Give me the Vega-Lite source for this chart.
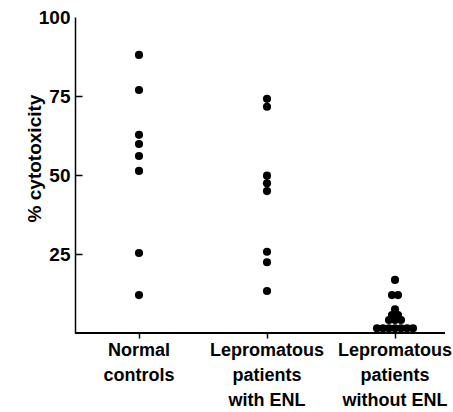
{
  "$schema": "https://vega.github.io/schema/vega-lite/v6.json",
  "width": 370,
  "height": 316,
  "autosize": {"type": "none"},
  "padding": {"left": 75, "top": 17, "right": 8, "bottom": 79},
  "config": {"view": {"stroke": null}, "font": "Liberation Sans"},
  "data": {"values": [
    {"group": "Normal controls", "value": 88.0},
    {"group": "Normal controls", "value": 76.9},
    {"group": "Normal controls", "value": 62.7},
    {"group": "Normal controls", "value": 59.8},
    {"group": "Normal controls", "value": 56.0},
    {"group": "Normal controls", "value": 51.3},
    {"group": "Normal controls", "value": 25.3},
    {"group": "Normal controls", "value": 12.0},
    {"group": "Lepromatous patients with ENL", "value": 74.1},
    {"group": "Lepromatous patients with ENL", "value": 71.6},
    {"group": "Lepromatous patients with ENL", "value": 49.8},
    {"group": "Lepromatous patients with ENL", "value": 47.4},
    {"group": "Lepromatous patients with ENL", "value": 44.9},
    {"group": "Lepromatous patients with ENL", "value": 25.7},
    {"group": "Lepromatous patients with ENL", "value": 22.4},
    {"group": "Lepromatous patients with ENL", "value": 13.3},
    {"group": "Lepromatous patients without ENL", "value": 16.8},
    {"group": "Lepromatous patients without ENL", "value": 12.0},
    {"group": "Lepromatous patients without ENL", "value": 12.0},
    {"group": "Lepromatous patients without ENL", "value": 7.5},
    {"group": "Lepromatous patients without ENL", "value": 5.7},
    {"group": "Lepromatous patients without ENL", "value": 5.7},
    {"group": "Lepromatous patients without ENL", "value": 4.1},
    {"group": "Lepromatous patients without ENL", "value": 4.1},
    {"group": "Lepromatous patients without ENL", "value": 4.1},
    {"group": "Lepromatous patients without ENL", "value": 1.5},
    {"group": "Lepromatous patients without ENL", "value": 1.5},
    {"group": "Lepromatous patients without ENL", "value": 1.5},
    {"group": "Lepromatous patients without ENL", "value": 1.5},
    {"group": "Lepromatous patients without ENL", "value": 1.5},
    {"group": "Lepromatous patients without ENL", "value": 1.5},
    {"group": "Lepromatous patients without ENL", "value": 1.5}
  ]},
  "layer": [
    {
      "data": {"values": [{}]},
      "mark": {"type": "rule", "color": "black", "strokeWidth": 2},
      "encoding": {
        "y": {"datum": 0, "type": "quantitative", "scale": {"domain": [0, 100], "nice": false}}
      }
    },
    {
      "transform": [
        {"window": [{"op": "row_number", "as": "rn"}, {"op": "count", "as": "cnt"}], "groupby": ["group", "value"], "frame": [null, null]},
        {"calculate": "datum.rn - (datum.cnt + 1) / 2", "as": "off"}
      ],
      "mark": {"type": "circle", "size": 66, "color": "black", "opacity": 1},
      "encoding": {
        "x": {
          "field": "group",
          "type": "nominal",
          "sort": null,
          "scale": {
            "domain": ["Normal controls", "Lepromatous patients with ENL", "Lepromatous patients without ENL"],
            "range": [0, 384],
            "paddingInner": 0,
            "paddingOuter": 0
          },
          "axis": {
            "title": null,
            "domain": false,
            "ticks": true,
            "tickSize": 5,
            "tickWidth": 1.5,
            "tickColor": "black",
            "labelAngle": 0,
            "labelExpr": "datum.value == 'Normal controls' ? ['Normal', 'controls'] : datum.value == 'Lepromatous patients with ENL' ? ['Lepromatous', 'patients', 'with ENL'] : ['Lepromatous', 'patients', 'without ENL']",
            "labelFont": "Liberation Sans",
            "labelFontSize": 18,
            "labelFontWeight": "bold",
            "labelLineHeight": 25,
            "labelPadding": 3,
            "labelColor": "black",
            "labelLimit": 300,
            "labelOverlap": false
          }
        },
        "xOffset": {"field": "off", "type": "quantitative", "scale": {"domain": [-10.667, 10.667]}},
        "y": {
          "field": "value",
          "type": "quantitative",
          "scale": {"domain": [0, 100], "nice": false},
          "axis": {
            "title": "% cytotoxicity",
            "values": [25, 50, 75, 100],
            "grid": false,
            "domainColor": "black",
            "domainWidth": 1.5,
            "tickColor": {"condition": {"test": "datum.value == 100", "value": "transparent"}, "value": "black"},
            "tickSize": -7,
            "tickWidth": 1.5,
            "labelFont": "Liberation Sans",
            "labelFontSize": 19,
            "labelFontWeight": "bold",
            "labelColor": "black",
            "labelPadding": 12,
            "titleFont": "Liberation Sans",
            "titleFontSize": 19,
            "titleFontWeight": "bold",
            "titleColor": "black",
            "titleX": -41,
            "titleY": 141,
            "titleBaseline": "middle"
          }
        }
      }
    }
  ]
}
